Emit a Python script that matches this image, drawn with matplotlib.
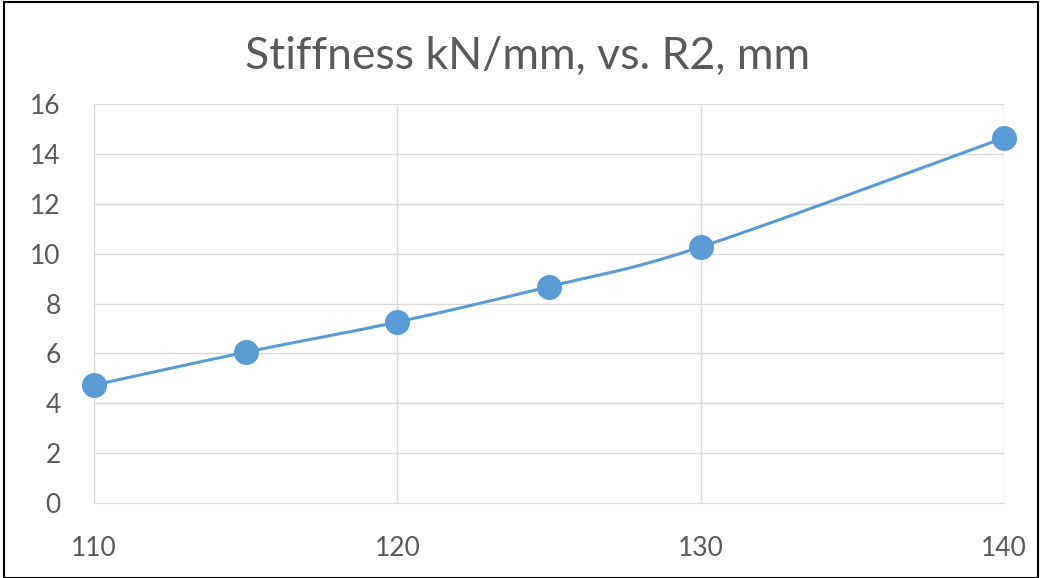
import numpy as np
import matplotlib.pyplot as plt
from matplotlib.patches import Rectangle

# dane
r2_mm = [110, 115, 120, 125, 130, 140]
stiffness = [4.73, 6.05, 7.26, 8.68, 10.27, 14.65]

x_ticks = [110, 120, 130, 140]
y_ticks = [0, 2, 4, 6, 8, 10, 12, 14, 16]

blue = "#5b9bd5"
grid_col = "#d9d9d9"
text_col = "#595959"


def catmull_rom(xs, ys, n=30):
    # wygladzona linia jak w Excelu
    px = [xs[0]] + list(xs) + [xs[-1]]
    py = [ys[0]] + list(ys) + [ys[-1]]
    out_x, out_y = [], []
    t = np.linspace(0, 1, n)
    for i in range(1, len(px) - 2):
        p0, p1, p2, p3 = (np.array([px[j], py[j]]) for j in range(i - 1, i + 3))
        m1 = (p2 - p0) / 2
        m2 = (p3 - p1) / 2
        h00 = 2 * t**3 - 3 * t**2 + 1
        h10 = t**3 - 2 * t**2 + t
        h01 = -2 * t**3 + 3 * t**2
        h11 = t**3 - t**2
        seg = np.outer(h00, p1) + np.outer(h10, m1) + np.outer(h01, p2) + np.outer(h11, m2)
        out_x.extend(seg[:, 0])
        out_y.extend(seg[:, 1])
    return out_x, out_y


plt.rcParams['font.family'] = ['Lato', 'DejaVu Sans']

fig = plt.figure(figsize=(10.4, 5.78), dpi=100)
ax = fig.add_axes([0.0904, 0.1298, 0.875, 0.690])

sx, sy = catmull_rom(r2_mm, stiffness)
ax.plot(sx, sy, color=blue, lw=2.2, zorder=3)
ax.plot(r2_mm, stiffness, 'o', color=blue, markersize=17, zorder=4, clip_on=False)

ax.set_xlim(110, 140)
ax.set_ylim(0, 16)
ax.set_xticks(x_ticks)
ax.set_yticks(y_ticks)
ax.grid(True, color=grid_col, lw=1)
ax.set_axisbelow(True)
for s in ['top', 'right']:
    ax.spines[s].set_visible(False)
for s in ['left', 'bottom']:
    ax.spines[s].set_color(grid_col)
ax.tick_params(length=0, labelsize=19, colors=text_col)
ax.tick_params(axis='x', pad=24)
ax.tick_params(axis='y', pad=24)

fig.text(0.507, 0.902, "Stiffness kN/mm, vs. R2, mm", ha='center', va='center',
         fontsize=32, color=text_col)

fig.patches.append(Rectangle((0.004, 0.0), 0.994, 0.996, transform=fig.transFigure,
                             fill=False, edgecolor='black', lw=1.5))

fig.savefig("out.png", dpi=100)
